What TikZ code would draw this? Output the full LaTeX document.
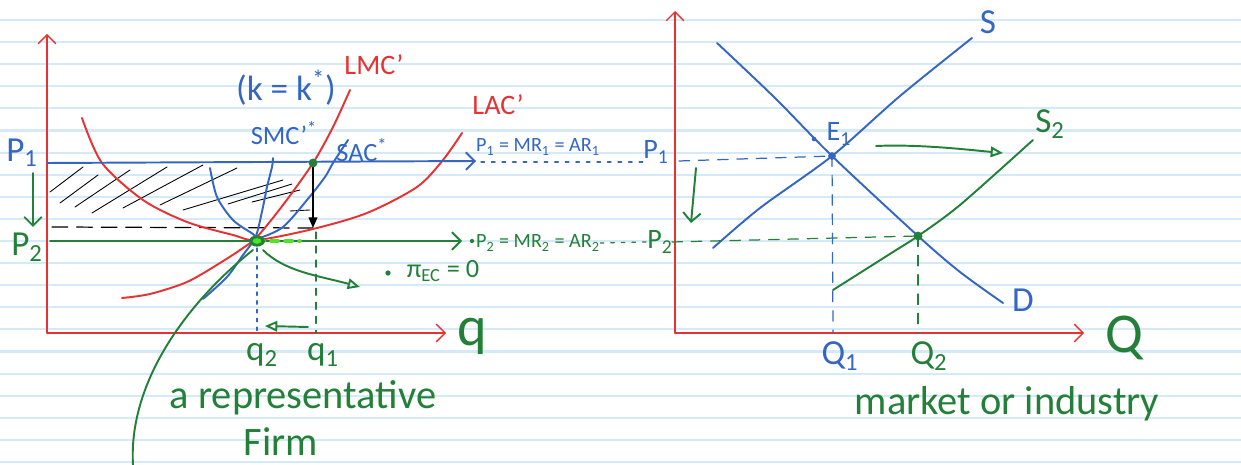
\documentclass[tikz,border=0pt]{standalone}
\usepackage{fontspec}
\setmainfont{Carlito}
\usepackage{tikz}
\usetikzlibrary{arrows.meta, positioning}
\definecolor{penred}{RGB}{232,50,50}
\definecolor{penblue}{RGB}{52,102,196}
\definecolor{pengreen}{RGB}{34,128,56}
\definecolor{pengreenlt}{RGB}{80,228,40}
\definecolor{ruled}{RGB}{212,234,249}

\begin{document}
\begin{tikzpicture}[x=0.02cm, y=-0.02cm, line cap=round, line join=round,
    pen/.style={line width=1.1pt},
    thinpen/.style={line width=0.7pt},
    lbl/.style={inner sep=0pt, font=\fontsize{20}{24}\selectfont},
    midlbl/.style={inner sep=0pt, font=\fontsize{16}{19}\selectfont},
    notelbl/.style={inner sep=0pt, font=\fontsize{11.5}{14}\selectfont},
    biglbl/.style={inner sep=0pt, font=\fontsize{32}{36}\selectfont},
    wordlbl/.style={inner sep=0pt, font=\fontsize{23}{27}\selectfont},
    axisline/.style={penred, line width=0.8pt, -{Straight Barb[length=5pt]}},
    opentip/.style={-{Triangle[open, length=7pt, width=6pt]}},
    linetip/.style={-{Straight Barb[length=5pt]}}]

    \useasboundingbox (0,0) rectangle (1241,465);
    % ruled paper
    \fill[white] (0,0) rectangle (1241,465);
    \foreach \k in {0,...,20}
        \draw[ruled, line width=1.2pt] (0,{20+22.1*\k}) -- (1241,{20+22.1*\k});

    % Define nodes
    \coordinate (O1) at (47,333);
    \coordinate (Y1) at (47,34);
    \coordinate (X1) at (446,333);
    \coordinate (T) at (257,241);
    \coordinate (B) at (313,163);
    \coordinate (Bd) at (313,228);
    \coordinate (p1s) at (47,163);
    \coordinate (p1e) at (476,161);
    \coordinate (p2s) at (50,241);
    \coordinate (p2e) at (462,241);
    \coordinate (q1top) at (316,232);
    \coordinate (q1foot) at (316,333);
    \coordinate (q2top) at (257,248);
    \coordinate (q2foot) at (257,333);
    \coordinate (O2) at (675,333);
    \coordinate (Y2) at (675,11);
    \coordinate (X2) at (1084,333);
    \coordinate (E1) at (832,156);
    \coordinate (E2) at (918,236);
    \coordinate (Q1foot) at (833,333);
    \coordinate (Q2foot) at (918,333);

    \node (P1) [lbl, text=penblue] at (22,153) {P\textsubscript{1}};
    \node (P2) [lbl, text=pengreen] at (27,247) {P\textsubscript{2}};
    \node (kk) [lbl, text=penblue] at (286,88) {(k = k\textsuperscript{*})};
    \node (LMC) [midlbl, text=penred] at (374,65) {LMC'};
    \node (LAC) [midlbl, text=penred] at (498,105) {LAC'};
    \node (SMC) [notelbl, text=penblue, font=\fontsize{15}{17}\selectfont] at (284,133) {SMC'\textsuperscript{*}};
    \node (SAC) [notelbl, text=penblue, font=\fontsize{15}{17}\selectfont] at (362,150) {SAC\textsuperscript{*}};
    \node (MR1) [notelbl, text=penblue] at (538,147) {P\textsubscript{1} = MR\textsubscript{1} = AR\textsubscript{1}};
    \node (P1r) [midlbl, text=penblue] at (656,152) {P\textsubscript{1}};
    \node (MR2) [notelbl, text=pengreen] at (538,243) {P\textsubscript{2} = MR\textsubscript{2} = AR\textsubscript{2}};
    \node (P2r) [midlbl, text=pengreen] at (660,242) {P\textsubscript{2}};
    \node (pi) [notelbl, text=pengreen, font=\fontsize{15}{17}\selectfont] at (443,271) {π\textsubscript{EC} = 0};
    \node (q1) [lbl, text=pengreen] at (323,355) {q\textsubscript{1}};
    \node (q2) [lbl, text=pengreen] at (262,355) {q\textsubscript{2}};
    \node (q) [biglbl, text=pengreen] at (472,336) {q};
    \node (firm1) [wordlbl, text=pengreen] at (303,398) {a representative};
    \node (firm2) [wordlbl, text=pengreen] at (281,442) {Firm};
    \node (S) [lbl, text=penblue] at (988,22) {S};
    \node (S2) [lbl, text=pengreen] at (1050,124) {S\textsubscript{2}};
    \node (D) [lbl, text=penblue] at (1023,300) {D};
    \node (E1l) [midlbl, text=penblue] at (839,134) {E\textsubscript{1}};
    \node (Q1) [lbl, text=penblue] at (840,356) {Q\textsubscript{1}};
    \node (Q2) [lbl, text=pengreen] at (929,356) {Q\textsubscript{2}};
    \node (Q) [biglbl, text=pengreen] at (1124,338) {Q};
    \node (mkt) [wordlbl, text=pengreen] at (1007,404) {market or industry};

    % hatched area
    \foreach \ax/\ay/\bx/\by in {50/192/83/167, 60/203/98/175, 75/207/130/170,
        92/213/167/167, 123/208/203/165, 160/205/237/168, 183/210/283/180,
        228/204/292/184, 252/202/300/190, 290/211/310/210}
        \draw[black, line width=0.5pt] (\ax,\ay) -- (\bx,\by);
    \draw[black, thinpen, dash pattern=on 9pt off 5pt] (52,227) -- (Bd);

    % Draw edges
    \draw[axisline] (O1) -- (Y1);
    \draw[axisline] (O1) -- (X1);
    \draw[axisline] (O2) -- (Y2);
    \draw[axisline] (O2) -- (X2);

    % cost curves
    \draw[pen, penred] plot[smooth] coordinates {(82,118) (102,163) (143,200)
        (187,222) (233,235) (257,240) (313,229) (367,213) (417,187) (443,160) (462,133)};
    \draw[pen, penred] plot[smooth] coordinates {(122,298) (150,294) (187,282)
        (220,263) (243,248) (257,237) (283,205) (313,163) (333,127) (350,90)};
    \draw[pen, penblue] plot[smooth] coordinates {(203,299) (227,277) (243,255)
        (252,243) (257,233) (263,207) (267,187) (272,167) (273,158)};
    \draw[pen, penblue] plot[smooth] coordinates {(210,168) (217,197) (233,220)
        (253,234) (259,238) (283,227) (307,200) (325,177) (333,163) (348,140)};

    % prices
    \draw[pen, penblue, linetip] (p1s) -- (p1e);
    \draw[pen, pengreen, linetip] (p2s) -- (p2e);
    \draw[penblue, thinpen, dash pattern=on 2pt off 4pt] (481,162) -- (481,162 -| P1r.west);
    \draw[pengreen, thinpen, dash pattern=on 2pt off 4pt] (MR2.east) -- (P2r.west);
    \fill[pengreen] (472,241) circle (1.2pt);
    \draw[pen, pengreen, linetip] (33,173) -- (33,227);
    \draw[thinpen, black, -{Triangle[length=6pt, width=5pt]}] (B) -- (Bd);
    \draw[pengreen, thinpen, dash pattern=on 4pt off 4pt] (q1top) -- (q1foot);
    \draw[penblue, thinpen, dash pattern=on 2pt off 3pt] (q2top) -- (q2foot);
    \draw[pen, pengreen, opentip] (308,327) -- (265,326);

    % firm equilibrium
    \fill[pengreen] (B) circle (2.5pt);
    \draw[pengreenlt, line width=2pt, dash pattern=on 4pt off 4pt] (T) -- (300,241);
    \fill[pengreen] (T) ellipse (4.5pt and 3.2pt);
    \fill[pengreenlt] (T) ellipse (2.5pt and 1.6pt);
    \draw[pen, pengreen] (133,465) .. controls (128,380) and (190,300) .. (253,250);
    \draw[pen, pengreen, opentip] (263,250) .. controls (285,272) and (320,276) .. (360,287);
    \fill[pengreen] (388,273) circle (1.5pt);

    % market
    \draw[pen, penblue] plot[smooth] coordinates {(717,43) (775,98) (832,156)
        (918,236) (960,272) (1003,303)};
    \draw[pen, penblue] plot[smooth] coordinates {(713,248) (760,208) (832,156)
        (900,96) (972,38)};
    \draw[pen, pengreen] plot[smooth] coordinates {(833,290) (893,252) (918,236)
        (960,205) (1033,140)};
    \draw[penblue, thinpen, dash pattern=on 6pt off 5pt] (679,161) -- (E1);
    \draw[pengreen, thinpen, dash pattern=on 6pt off 5pt] (672,242) -- (E2);
    \draw[penblue, thinpen, dash pattern=on 6pt off 5pt] (E1) -- (Q1foot);
    \draw[pengreen, thinpen, dash pattern=on 6pt off 5pt] (E2) -- (Q2foot);
    \fill[penblue] (E1) circle (2.2pt);
    \fill[pengreen] (E2) circle (2.5pt);
    \fill[penblue] (814,139) circle (1.3pt);
    \draw[pen, pengreen, linetip] (696,168) -- (691,223);
    \draw[pen, pengreen, opentip] (876,146) .. controls (920,144) and (970,150) .. (1003,153);
\end{tikzpicture}
\end{document}
